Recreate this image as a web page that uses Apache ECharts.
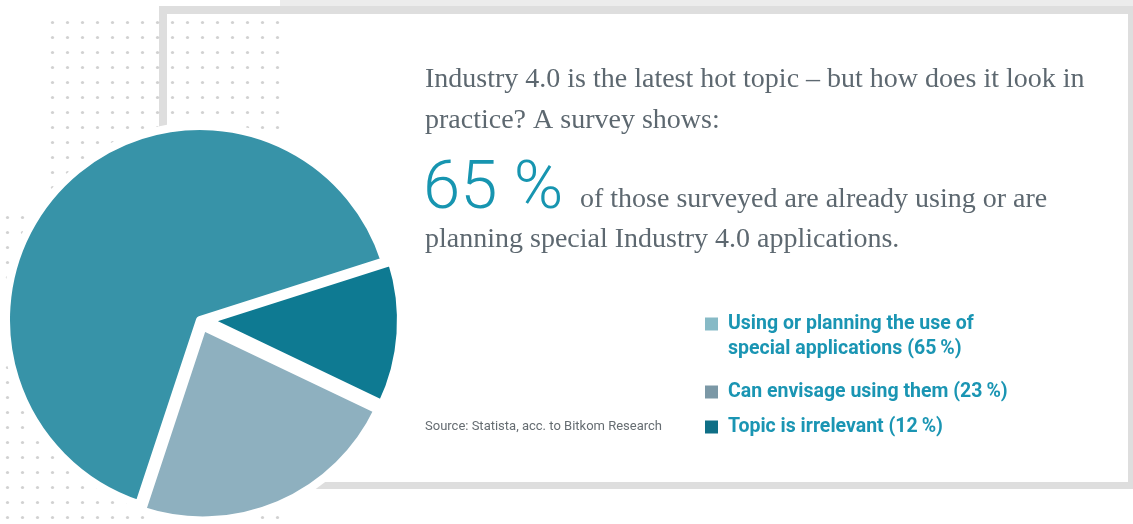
<!DOCTYPE html>
<html>
<head>
<meta charset="utf-8">
<script src="https://cdn.jsdelivr.net/npm/echarts@6/dist/echarts.min.js"></script>
<style>
  html, body { margin: 0; padding: 0; background: #fff; }
  #chart { width: 1133px; height: 524px; }
</style>
</head>
<body>
<div id="chart"></div>
<script>
// survey shares (%)
const categories = [
  'Using or planning the use of\nspecial applications (65\u2009%)',
  'Can envisage using them (23\u2009%)',
  'Topic is irrelevant (12\u2009%)'
]
const values = [65, 23, 12]
const sliceColors = ['#3793a8', '#8eb0bf', '#0e7a92']
const legendColors = ['#87bac6', '#7b98a6', '#0f6f86']

const introLine1 = 'Industry 4.0 is the latest hot topic \u2013 but how does it look in'
const introLine2 = 'practice? A survey shows:'
const bigNumber = '65 %'
const restLine1 = 'of those surveyed are already using or are'
const restLine2 = 'planning special Industry 4.0 applications.'
const sourceText = 'Source: Statista, acc. to Bitkom Research'

// dotted background pattern
function dotPattern() {
  const c = document.createElement('canvas')
  c.width = 15
  c.height = 15
  const ctx = c.getContext('2d')
  ctx.fillStyle = '#8d8d8d'
  ctx.beginPath()
  ctx.arc(7.5, 7.5, 1.6, 0, Math.PI * 2)
  ctx.fill()
  return c
}

const serif = "'Liberation Serif', 'DejaVu Serif', serif"
const sans = "Roboto, 'Liberation Sans', sans-serif"
const textGrey = '#5d6870'
const teal = '#1a95b3'

// square icon with an invisible speck so the box leaves room for the text gap
// (and, for the two-line item, keeps the square on the first line)
const iconShort = 'path://M0,0L15,0L15,15L0,15Z M18.95,14.95L19,14.95L19,15L18.95,15Z'
const iconTall = 'path://M0,0L15,0L15,15L0,15Z M18.95,39.95L19,39.95L19,40L18.95,40Z'

const chart = echarts.init(document.getElementById('chart'))

const legendTops = [311.5, 379.5, 414.5]
const legends = categories.map((name, i) => ({
  orient: 'vertical',
  left: 703,
  top: legendTops[i],
  padding: 0,
  itemWidth: 19,
  itemHeight: i === 0 ? 40 : 15,
  itemGap: 0,
  selectedMode: false,
  data: [{
    name: name,
    icon: i === 0 ? iconTall : iconShort,
    itemStyle: { color: legendColors[i] }
  }],
  textStyle: {
    color: teal,
    fontFamily: sans,
    fontWeight: 'bold',
    fontSize: 19.5,
    lineHeight: 25
  }
}))

// text boxes are placed by their top edge
const option = {
  animation: false,
  backgroundColor: '#ffffff',
  legend: legends,
  graphic: [
    // card frame
    { type: 'rect', z: -10, shape: { x: 159, y: 6, width: 990, height: 483 }, style: { fill: '#dedede' } },
    { type: 'rect', z: -9, shape: { x: 167, y: 14, width: 961, height: 468 }, style: { fill: '#ffffff' } },
    { type: 'rect', z: -10, shape: { x: 280, y: 0, width: 853, height: 6 }, style: { fill: '#ececec' } },
    // dots
    { type: 'rect', z: -8, shape: { x: 40, y: 12, width: 240, height: 200 },
      style: { fill: { type: 'pattern', image: dotPattern(), repeat: 'repeat' }, opacity: 0.4 } },
    { type: 'rect', z: -8, shape: { x: -2, y: 212, width: 282, height: 312 },
      style: { fill: { type: 'pattern', image: dotPattern(), repeat: 'repeat' }, opacity: 0.4 } },
    // texts
    { type: 'text', x: 425, y: 66, style: { text: introLine1, font: '28px ' + serif, fill: textGrey, verticalAlign: 'top' } },
    { type: 'text', x: 425, y: 107, style: { text: introLine2, font: '28px ' + serif, fill: textGrey, verticalAlign: 'top' } },
    { type: 'text', x: 423, y: 158, style: { text: bigNumber, font: '300 67px Roboto, sans-serif', fill: '#1795b0', verticalAlign: 'top' } },
    { type: 'text', x: 580, y: 186, style: { text: restLine1, font: '28px ' + serif, fill: textGrey, verticalAlign: 'top' } },
    { type: 'text', x: 425, y: 226, style: { text: restLine2, font: '28px ' + serif, fill: textGrey, verticalAlign: 'top' } },
    { type: 'text', x: 425, y: 427, style: { text: sourceText, font: '13px ' + sans, fill: '#666d72', verticalAlign: 'middle' } }
  ],
  series: [{
    type: 'pie',
    center: [200, 320],
    radius: 194,
    clockwise: false,
    startAngle: 17.7,
    selectedMode: 'multiple',
    selectedOffset: 7,
    silent: true,
    label: { show: false },
    labelLine: { show: false },
    itemStyle: { borderColor: '#ffffff', borderWidth: 8 },
    select: { itemStyle: { borderColor: '#ffffff', borderWidth: 8 } },
    data: categories.map((name, i) => ({
      name: name,
      value: values[i],
      selected: i > 0,
      itemStyle: { color: sliceColors[i] },
      select: { itemStyle: { color: sliceColors[i] } }
    }))
  }]
}

chart.setOption(option)
</script>
</body>
</html>
